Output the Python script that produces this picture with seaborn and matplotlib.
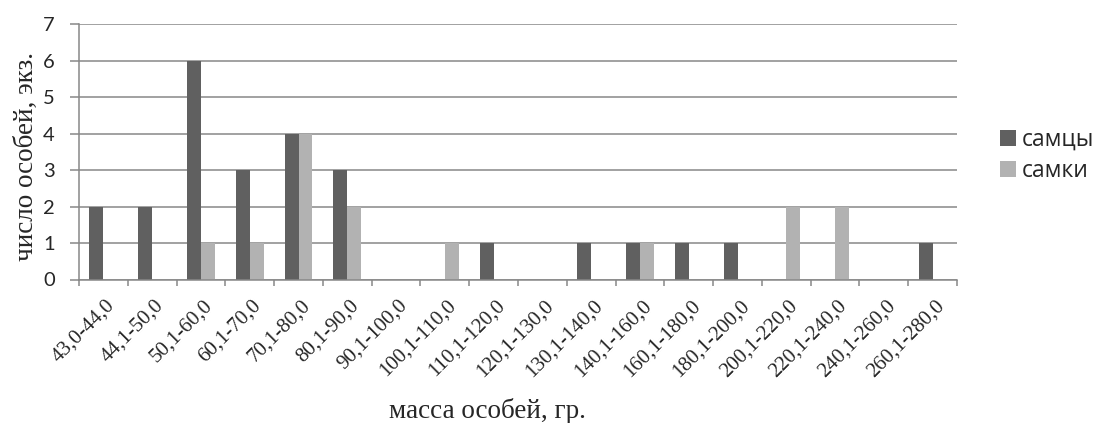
import numpy as np
import pandas as pd
import seaborn as sns
import matplotlib.pyplot as plt
from matplotlib.transforms import ScaledTranslation

# mass classes, g
categories = ["43,0-44,0", "44,1-50,0", "50,1-60,0", "60,1-70,0", "70,1-80,0",
              "80,1-90,0", "90,1-100,0", "100,1-110,0", "110,1-120,0",
              "120,1-130,0", "130,1-140,0", "140,1-160,0", "160,1-180,0",
              "180,1-200,0", "200,1-220,0", "220,1-240,0", "240,1-260,0",
              "260,1-280,0"]
males = [2, 2, 6, 3, 4, 3, 0, 0, 1, 0, 1, 1, 1, 1, 0, 0, 0, 1]
females = [0, 0, 1, 1, 4, 2, 0, 1, 0, 0, 0, 1, 0, 0, 2, 2, 0, 0]
series_names = ["самцы", "самки"]
colors = ["#606060", "#b2b2b2"]

df = pd.DataFrame({
    "class": categories * 2,
    "count": males + females,
    "sex": [series_names[0]] * len(categories) + [series_names[1]] * len(categories),
})

sns.set_theme(style="white")
serif = ["Liberation Serif", "DejaVu Serif"]
plt.rcParams["font.family"] = serif

fig = plt.figure(figsize=(10.96, 4.23), dpi=100)
ax = fig.add_axes([79 / 1096, 1 - 279.5 / 423, 878 / 1096, 255.5 / 423])

sns.barplot(data=df, x="class", y="count", hue="sex", order=categories,
            hue_order=series_names, palette=colors, width=0.57, gap=0,
            saturation=1, linewidth=0, ax=ax)

grid_c = "#888888"
ax.set_ylim(0, 7)
ax.set_xlim(-0.5, len(categories) - 0.5)
ax.set_yticks(range(0, 8))
ax.yaxis.grid(True, color=grid_c, linewidth=1.1)
ax.set_axisbelow(True)
for s in ["top", "right"]:
    ax.spines[s].set_visible(False)
for s in ["left", "bottom"]:
    ax.spines[s].set_color(grid_c)
    ax.spines[s].set_linewidth(1.1)

ax.tick_params(axis="y", left=True, length=6.5, color=grid_c, width=1.1,
               labelsize=14.5, pad=11)
for lab in ax.get_yticklabels():
    lab.set_family(["Lato", "DejaVu Sans"])

# x ticks sit on the category boundaries, labels under the centres
ax.set_xticks(np.arange(-0.5, len(categories), 1.0))
ax.set_xticklabels([])
ax.tick_params(axis="x", which="major", bottom=True, length=4.5, color=grid_c, width=1.1)
ax.set_xticks(np.arange(len(categories)), minor=True)
ax.set_xticklabels(categories, minor=True, rotation=45, ha="right", va="top",
                   rotation_mode="anchor", fontsize=15, family=serif)
ax.tick_params(axis="x", which="minor", bottom=False, length=0, pad=12)
shift = ScaledTranslation(2 / 100, 0, fig.dpi_scale_trans)
for lab in ax.get_xticklabels(minor=True):
    lab.set_family(serif)
    lab.set_transform(lab.get_transform() + shift)

ax.set_xlabel("масса особей, гр.", fontsize=19.5)
ax.xaxis.set_label_coords(0.465, -0.542)
ax.xaxis.label.set_va("baseline")
ax.set_ylabel("число особей, экз.", fontsize=19.5)
ax.yaxis.set_label_coords(-0.0524, 0.481)
ax.yaxis.label.set_va("baseline")

ax.legend(loc="center left", bbox_to_anchor=(1000 / 1096, 1 - 155.5 / 423),
          bbox_transform=fig.transFigure, frameon=False, borderpad=0,
          borderaxespad=0, handlelength=0.7, handleheight=0.7,
          handletextpad=0.27, labelspacing=0.3,
          prop={"family": ["Open Sans", "DejaVu Sans"], "size": 16.5})

fig.savefig("out.png", dpi=100)
